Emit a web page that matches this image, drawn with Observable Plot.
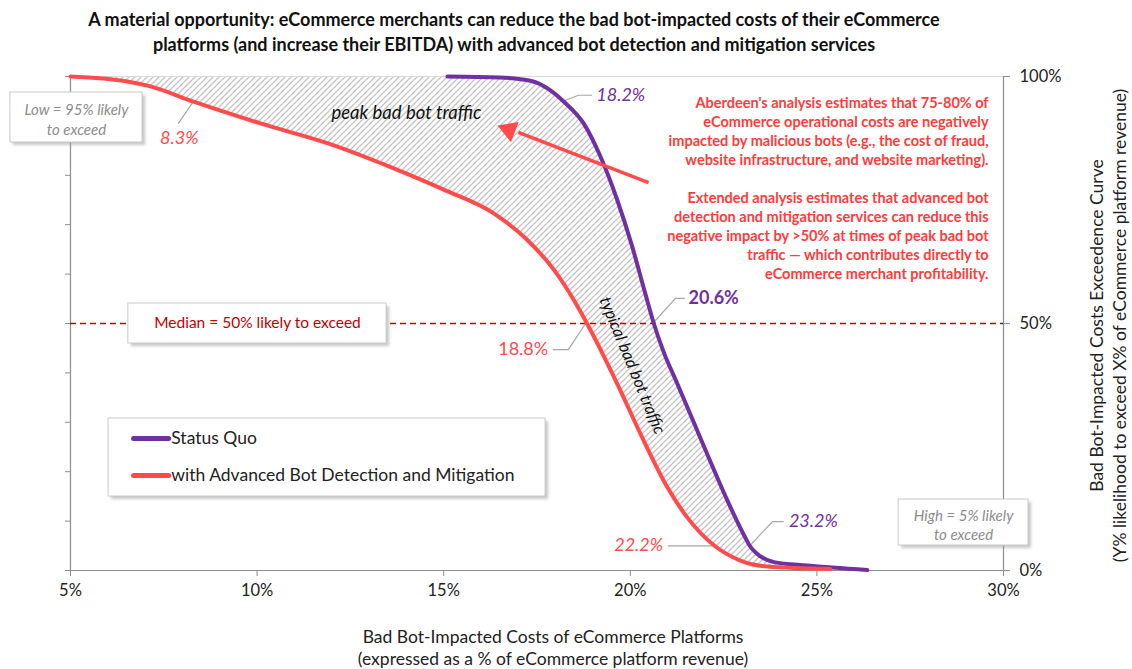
<!DOCTYPE html>
<html><head><meta charset="utf-8">
<script src="https://cdn.jsdelivr.net/npm/d3@7"></script>
<script src="https://cdn.jsdelivr.net/npm/@observablehq/plot@0.6"></script>
<style>
body{margin:0;background:#fff;font-family:Lato,"Open Sans",sans-serif;}
#title{height:62px;box-sizing:border-box;padding-top:7px;text-align:center;font-weight:700;font-size:18px;line-height:25px;color:#111;width:1028px;}
#chart svg{display:block;overflow:visible;}
</style></head><body>
<div id="title">A material opportunity: eCommerce merchants can reduce the bad bot-impacted costs of their eCommerce<br>platforms (and increase their EBITDA) with advanced bot detection and mitigation services</div>
<div id="chart"></div>
<script>
// ---- data ----
const xTicks = [5, 10, 15, 20, 25, 30];
const yTicksLeft = [0, 10, 20, 30, 40, 50, 60, 70, 80, 90, 100];
const yTicksRight = [0, 50, 100];
const seriesNames = ["Status Quo", "with Advanced Bot Detection and Mitigation"];

const statusQuoX = [15.1, 16.5, 17.35, 17.86, 18.22, 18.75, 19.2, 19.65, 20.05, 20.4, 20.63, 20.88, 21.26, 21.7, 22.02, 22.32, 22.6, 22.86, 23.12, 23.2, 23.38, 23.85, 24.74, 26.35];
const statusQuoY = [100, 99.8, 99.1, 97.2, 94.9, 90.5, 83.8, 75.0, 65.6, 56.1, 50, 44.5, 37.8, 30, 24.3, 19, 14.2, 10, 6.1, 5, 3.5, 1.7, 1.0, 0.1];

const mitigatedX = [5.0, 6.52, 7.14, 8.3, 10.09, 11.88, 13.66, 15.0, 16.34, 17.24, 17.95, 18.49, 18.84, 19.65, 20.27, 20.99, 21.52, 22.24, 22.95, 23.67, 25.36];
const mitigatedY = [100, 99.0, 98.0, 94.9, 90.5, 86.5, 81.4, 77.1, 72.3, 66.9, 60.9, 54.7, 50, 37.8, 27.7, 16.9, 10.8, 5.1, 2.0, 0.8, 0.3];

const quantileProbs = [95, 50, 5];
const statusQuoQuantiles = [18.2, 20.6, 23.2];
const mitigatedQuantiles = [8.3, 18.8, 22.2];
const medianProb = 50;

// ---- tables ----
const statusQuo = statusQuoX.map((x, i) => ({x, y: statusQuoY[i]}));
const mitigated = mitigatedX.map((x, i) => ({x, y: mitigatedY[i]}));

const PURPLE = "#7030A0", RED = "#FF4B4B", GRAYLINE = "#a6a6a6", AXIS = "#8c8c8c";
const F = "Lato, 'Open Sans', sans-serif";

// leader lines (offsets in data units from the labelled point)
const leaders = [
  {id: "m95", pts: [[mitigatedQuantiles[0], quantileProbs[0]], [mitigatedQuantiles[0] - 0.41, quantileProbs[0] - 4.5]]},
  {id: "s95", pts: [[statusQuoQuantiles[0], quantileProbs[0]], [statusQuoQuantiles[0] + 0.41, quantileProbs[0] + 1.2], [statusQuoQuantiles[0] + 0.76, quantileProbs[0] + 1.2]]},
  {id: "s50", pts: [[statusQuoQuantiles[1], quantileProbs[1]], [statusQuoQuantiles[1] + 0.61, quantileProbs[1] + 5.1], [statusQuoQuantiles[1] + 0.85, quantileProbs[1] + 5.1]]},
  {id: "m50", pts: [[mitigatedQuantiles[1], quantileProbs[1]], [mitigatedQuantiles[1] - 0.46, quantileProbs[1] - 5.3], [mitigatedQuantiles[1] - 0.86, quantileProbs[1] - 5.3]]},
  {id: "m5", pts: [[mitigatedQuantiles[2], quantileProbs[2]], [mitigatedQuantiles[2] - 1.18, quantileProbs[2]]]},
  {id: "s5", pts: [[statusQuoQuantiles[2], quantileProbs[2]], [statusQuoQuantiles[2] + 0.61, quantileProbs[2] + 4.9], [statusQuoQuantiles[2] + 0.9, quantileProbs[2] + 4.9]]}
].flatMap(d => d.pts.map(p => ({id: d.id, x: p[0], y: p[1]})));

const lbl = (x, y, text, fill, opts = {}) => Plot.text([text], {x: [x], y: [y], text: d => d, fill, fontFamily: F, fontSize: 18, ...opts});

const box = (x1, x2, y1, y2) => [
  Plot.rect([0], {x1, x2, y1, y2, fill: "#9a9a9a", fillOpacity: 0.55, dx: 3, dy: 3, ariaDescription: "shadow"}),
  Plot.rect([0], {x1, x2, y1, y2, fill: "white", stroke: "#c9c9c9", strokeWidth: 1})
];

const redNote = "Aberdeen's analysis estimates that 75-80% of\neCommerce operational costs are negatively\nimpacted by malicious bots (e.g., the cost of fraud,\nwebsite infrastructure, and website marketing).\n\nExtended analysis estimates that advanced bot\ndetection and mitigation services can reduce this\nnegative impact by >50% at times of peak bad bot\ntraffic \u2014 which contributes directly to\neCommerce merchant profitability.";

const arrowFrom = {x: 20.49, y: 78.5}, arrowTo = {x: 16.75, y: 89.2};

const chart = Plot.plot({
  width: 1132, height: 607,
  marginTop: 14, marginBottom: 99, marginLeft: 70, marginRight: 129,
  x: {domain: [5, 30], label: null},
  y: {domain: [0, 100], label: null},
  style: {fontFamily: F, fontSize: "16px", color: "#222", background: "white", overflow: "visible"},
  marks: [
    // hatched band between curves
    Plot.areaY(mitigated, {x: "x", y1: "y", y2: 100, fill: "url(#hatch)", curve: "monotone-x"}),
    Plot.areaY(statusQuo, {x: "x", y1: "y", y2: 100, fill: "white", curve: "monotone-x"}),
    // frame
    Plot.ruleY([100], {stroke: "#d9d9d9", strokeWidth: 1.2}),
    Plot.ruleX([5], {stroke: AXIS, strokeWidth: 1.2}),
    Plot.ruleX([30], {stroke: AXIS, strokeWidth: 1.2}),
    Plot.ruleY([0], {stroke: AXIS, strokeWidth: 1.2}),
    Plot.axisX({ticks: xTicks, tickFormat: d => d + "%", tickSize: 6, tickPadding: 8, fontSize: 16.5, stroke: AXIS, fill: "#222", label: null}),
    Plot.axisY({anchor: "left", ticks: yTicksLeft, tickFormat: () => "", tickSize: 5, stroke: AXIS, label: null}),
    Plot.axisY({anchor: "right", ticks: yTicksRight, tickFormat: d => d + "%", tickSize: 6, tickPadding: 10, fontSize: 16.5, stroke: AXIS, fill: "#222", label: null}),
    // median line
    Plot.ruleY([medianProb], {stroke: "#C00000", strokeWidth: 1.5, strokeDasharray: "6,4"}),
    // leaders
    Plot.line(leaders, {x: "x", y: "y", z: "id", stroke: GRAYLINE, strokeWidth: 1.2}),
    // curves
    Plot.line(statusQuo, {x: "x", y: "y", stroke: PURPLE, strokeWidth: 4, curve: "monotone-x"}),
    Plot.line(mitigated, {x: "x", y: "y", stroke: RED, strokeWidth: 4, curve: "monotone-x"}),
    // arrow
    Plot.link([0], {x1: arrowFrom.x, y1: arrowFrom.y, x2: arrowTo.x + 0.25, y2: arrowTo.y - 0.5, stroke: RED, strokeWidth: 3.5}),
    Plot.dot([0], {x: arrowTo.x, y: arrowTo.y, symbol: "triangle", r: 8, fill: RED, rotate: -69}),
    // region labels
    lbl(14.0, 92.5, "peak bad bot traffic", "#111", {fontStyle: "italic", fontSize: 18.5}),
    lbl(20.05, 41.5, "typical bad bot traffic", "#111", {fontStyle: "italic", fontSize: 16.5, rotate: 67.5}),
    // value labels
    lbl(mitigatedQuantiles[0] - 0.9, 87.5, mitigatedQuantiles[0] + "%", RED, {fontStyle: "italic", textAnchor: "start"}),
    lbl(statusQuoQuantiles[0] + 0.89, 96.2, statusQuoQuantiles[0] + "%", PURPLE, {fontStyle: "italic", textAnchor: "start"}),
    lbl(statusQuoQuantiles[1] + 0.96, 55.1, statusQuoQuantiles[1] + "%", PURPLE, {fontWeight: 700, textAnchor: "start"}),
    lbl(mitigatedQuantiles[1] - 1.0, 44.7, mitigatedQuantiles[1] + "%", RED, {textAnchor: "end"}),
    lbl(mitigatedQuantiles[2] - 1.32, 5.06, mitigatedQuantiles[2] + "%", RED, {fontStyle: "italic", textAnchor: "end"}),
    lbl(statusQuoQuantiles[2] + 1.05, 9.9, statusQuoQuantiles[2] + "%", PURPLE, {fontStyle: "italic", textAnchor: "start"}),
    // red explanatory note
    lbl(29.6, 77.6, redNote, "#FF3B3B", {fontWeight: 700, fontSize: 14.5, textAnchor: "end", lineHeight: 1.31}),
    // boxes
    box(3.39, 6.93, 86.64, 96.76),
    lbl(5.16, 91.5, "Low = 95% likely\nto exceed", "#8c8c8c", {fontStyle: "italic", fontSize: 15, lineHeight: 1.33}),
    box(6.55, 13.47, 45.95, 54.05),
    lbl(10.01, 50, "Median = 50% likely to exceed", "#C00000", {fontSize: 15.5}),
    box(27.19, 30.67, 5.06, 14.37),
    lbl(28.93, 9.4, "High = 5% likely\nto exceed", "#8c8c8c", {fontStyle: "italic", fontSize: 15, lineHeight: 1.27}),
    // legend
    box(6.02, 17.73, 14.98, 30.77),
    Plot.link(seriesNames, {x1: 6.69, x2: 7.63, y1: (d, i) => [26.72, 19.23][i], y2: (d, i) => [26.72, 19.23][i], stroke: [PURPLE, RED], strokeWidth: 5, strokeLinecap: "round"}),
    Plot.text(seriesNames, {x: 7.7, y: (d, i) => [26.72, 19.23][i], text: d => d, textAnchor: "start", fill: "#222", fontFamily: F, fontSize: 17.5}),
    // axis titles
    Plot.text(["Bad Bot-Impacted Costs of eCommerce Platforms"], {frameAnchor: "bottom", dx: 16, dy: 67, text: d => d, textAnchor: "middle", lineAnchor: "middle", fontSize: 17.5, fill: "#222", fontFamily: F}),
    Plot.text(["(expressed as a % of eCommerce platform revenue)"], {frameAnchor: "bottom", dx: 16, dy: 89, text: d => d, textAnchor: "middle", lineAnchor: "middle", fontSize: 17.5, fill: "#222", fontFamily: F}),
    Plot.text(["Bad Bot-Impacted Costs Exceedence Curve"], {frameAnchor: "right", dx: 94, dy: 2, rotate: -90, text: d => d, textAnchor: "middle", lineAnchor: "middle", fontSize: 17.5, fill: "#222", fontFamily: F}),
    Plot.text(["(Y% likelihood to exceed X% of eCommerce platform revenue)"], {frameAnchor: "right", dx: 117, dy: 2, rotate: -90, text: d => d, textAnchor: "middle", lineAnchor: "middle", fontSize: 17.5, fill: "#222", fontFamily: F})
  ].flat()
});

const svg = d3.select(chart);
const defs = svg.insert("defs", ":first-child");
const pat = defs.append("pattern").attr("id", "hatch").attr("width", 6).attr("height", 6).attr("patternUnits", "userSpaceOnUse");
pat.append("rect").attr("width", 6).attr("height", 6).attr("fill", "white");
pat.append("path").attr("d", "M-1,1 l2,-2 M0,6 l6,-6 M5,7 l2,-2").attr("stroke", "#c4c4c4").attr("stroke-width", 1.3);
defs.append("filter").attr("id", "blur").attr("x", "-20%").attr("y", "-20%").attr("width", "140%").attr("height", "140%")
  .append("feGaussianBlur").attr("stdDeviation", 1.6);
svg.selectAll("g[aria-description='shadow']").attr("filter", "url(#blur)");
document.getElementById("chart").append(chart);
</script>
</body></html>
